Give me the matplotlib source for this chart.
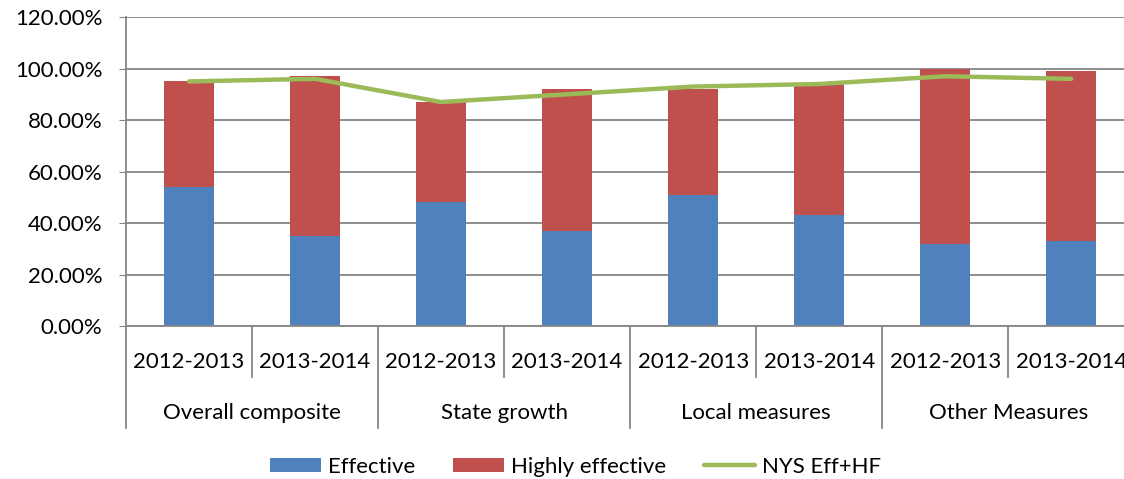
import numpy as np
import matplotlib.pyplot as plt
import matplotlib.transforms as mtransforms
from matplotlib.ticker import FuncFormatter

plt.rcParams['font.family'] = ['Lato', 'DejaVu Sans']

years = ['2012-2013', '2013-2014'] * 4
groups = ['Overall composite', 'State growth', 'Local measures', 'Other Measures']
effective = [0.54, 0.35, 0.48, 0.37, 0.51, 0.43, 0.32, 0.33]
highly_effective = [0.41, 0.62, 0.39, 0.55, 0.41, 0.51, 0.68, 0.66]
nys_eff_hf = [0.95, 0.96, 0.87, 0.90, 0.93, 0.94, 0.97, 0.96]

fs = 16
fig = plt.figure(figsize=(11.24, 4.79), dpi=100)
# the plot area runs a little past the right edge, as in the original
ax = fig.add_axes([0.1121, 0.3194, 0.897, 0.645])

x = np.arange(len(years))
b1 = ax.bar(x, effective, width=0.4, color='#4F81BD', label='Effective', zorder=2)
b2 = ax.bar(x, highly_effective, width=0.4, bottom=effective, color='#C0504D',
            label='Highly effective', zorder=2)
ln, = ax.plot(x, nys_eff_hf, color='#9BBB59', lw=3.2, label='NYS Eff+HF', zorder=3,
              solid_capstyle='round')

ax.set_xlim(-0.5, len(years) - 0.5)
ax.set_ylim(0, 1.2)
ax.set_yticks(np.arange(0, 1.21, 0.2))
ax.yaxis.set_major_formatter(FuncFormatter(lambda v, p: f'{v * 100:.2f}%'))
ax.tick_params(axis='y', labelsize=fs, length=5, color='#868686', pad=12)
ax.grid(axis='y', color='#868686', lw=1.3, zorder=0)
ax.set_xticks([])
for s in ['top', 'right']:
    ax.spines[s].set_visible(False)
ax.spines['left'].set_color('#868686')
ax.spines['bottom'].set_color('#868686')
ax.spines['left'].set_linewidth(1.3)
ax.spines['bottom'].set_linewidth(1.3)

# two-level category axis
trans = mtransforms.blended_transform_factory(ax.transData, ax.transAxes)
for i in range(len(years) + 1):
    bottom = -0.33 if i % 2 == 0 else -0.165
    ax.plot([i - 0.5, i - 0.5], [0, bottom], color='#868686', lw=1.3,
            transform=trans, clip_on=False)
for i, y in enumerate(years):
    ax.text(i, -0.117, y, transform=trans, ha='center', va='center', fontsize=fs)
for g, name in enumerate(groups):
    ax.text(2 * g + 0.5, -0.282, name, transform=trans, ha='center',
            va='center', fontsize=fs)

fig.legend([b1, b2, ln], ['Effective', 'Highly effective', 'NYS Eff+HF'],
           loc='center', bbox_to_anchor=(0.512, 0.025), ncol=3, frameon=False,
           fontsize=fs, handlelength=2.3, handleheight=0.63, columnspacing=1.7,
           handletextpad=0.3)

fig.savefig('out.png', dpi=100)
